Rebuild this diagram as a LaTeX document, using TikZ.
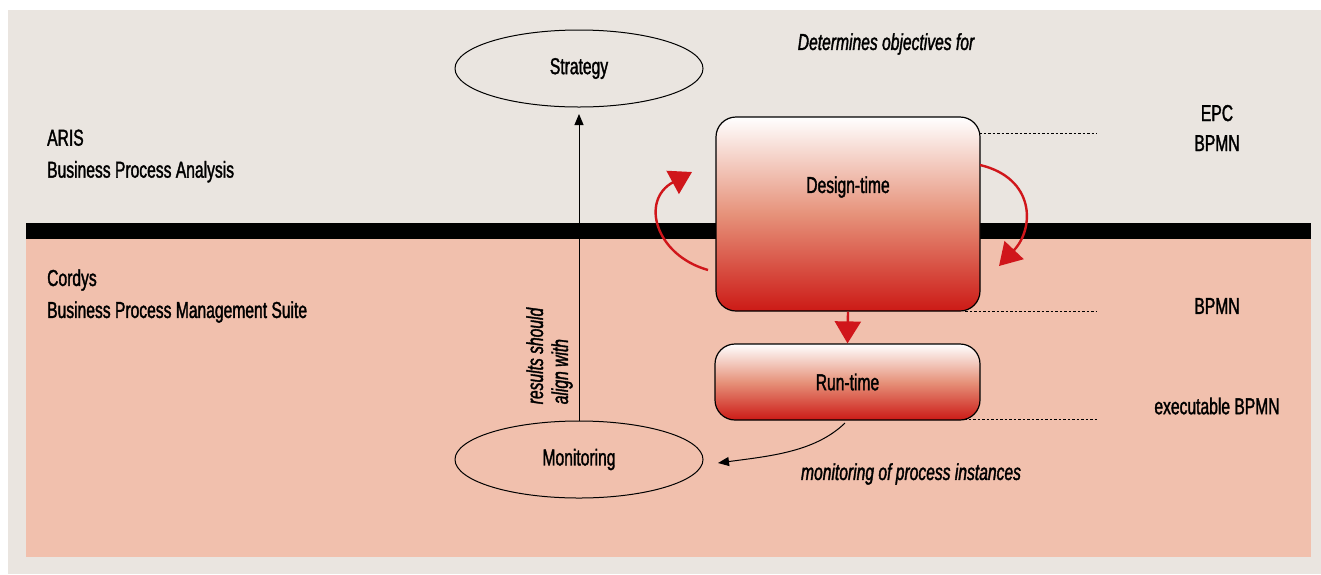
\documentclass[tikz,border=0pt]{standalone}
\usepackage{fontspec}
\setmainfont{Liberation Sans}[FakeStretch=0.68,FakeBold=1.5]
\usetikzlibrary{arrows.meta,shapes.geometric}
\definecolor{beige}{HTML}{EAE5E0}
\definecolor{pinkbg}{HTML}{F1C0AD}
\definecolor{arrowred}{HTML}{D0161B}
\definecolor{salmon}{HTML}{E6927A}
\definecolor{deepred}{HTML}{CC1A16}
\tikzset{
  lbl/.style={font=\fontsize{23}{32}\selectfont, inner sep=0pt},
  ilbl/.style={font=\fontsize{23}{32}\selectfont\itshape, inner sep=0pt},
  oval/.style={ellipse, draw=black, line width=1pt, minimum width=248pt, minimum height=77pt, inner sep=0pt, font=\fontsize{23}{25}\selectfont},
  phasebox/.style={rounded corners=20pt, draw=black, line width=1.2pt, top color=white, bottom color=deepred, middle color=salmon, inner sep=0pt, font=\fontsize{23}{25}\selectfont},
  redarrow/.style={draw=arrowred, line width=2.4pt, -{Triangle[length=22pt,width=26pt]}},
  blackarrow/.style={draw=black, line width=1pt, -{Triangle[length=11pt,width=9pt]}},
  dotline/.style={draw=black, line width=1pt, dash pattern=on 2.5pt off 2pt}
}
\begin{document}
\begin{tikzpicture}[x=1pt, y={(0pt,-1pt)}]
\useasboundingbox (0,0) rectangle (1321,574);
% backgrounds
\fill[white] (0,0) rectangle (1321,574);
\fill[beige] (8,10) rectangle (1321,574);
\fill[pinkbg] (26,239) rectangle (1311,557);
\fill[black] (26,223) rectangle (1311,239);

% left labels
\node[lbl, anchor=west, align=left] (aris) at (47,156) {ARIS\\Business Process Analysis};
\node[lbl, anchor=west, align=left] (cordys) at (47,296) {Cordys\\Business Process Management Suite};

% right labels
\node[lbl, align=center] (epc) at (1217,128) {EPC\\[-2pt]BPMN};
\node[lbl] (bpmn) at (1217,306) {BPMN};
\node[lbl] (exec) at (1217,406) {executable BPMN};

% italic labels
\node[ilbl] (determ) at (886,44) {Determines objectives for};
\node[ilbl] (moninst) at (911,474) {monitoring of process instances};

% ellipses
\node[oval] (strategy) at (579,68.5) {Strategy};
\node[oval] (monitoring) at (579,459.5) {Monitoring};

% dotted lines
\coordinate (d1a) at (979,133); \coordinate (d1b) at (1097,133);
\coordinate (d2a) at (965,311); \coordinate (d2b) at (1097,311);
\coordinate (d3a) at (964,419); \coordinate (d3b) at (1097,419);
\draw[dotline] (d1a) -- (d1b);
\draw[dotline] (d2a) -- (d2b);
\draw[dotline] (d3a) -- (d3b);

% boxes
\node[phasebox, minimum width=264pt, minimum height=194pt] (design) at (848,214) {};
\node[lbl] (designlbl) at (848,187) {Design-time};
\node[phasebox, minimum width=265pt, minimum height=76pt] (runtime) at (847.5,382) {Run-time};

% red arrows
\coordinate (ls) at (708,270);
\coordinate (lt) at (692,172);
\draw[redarrow] (ls) .. controls (655,255) and (640,200) .. (lt);
\coordinate (rs) at (980,165);
\coordinate (rt) at (999,266);
\draw[redarrow] (rs) .. controls (1035,178) and (1035,228) .. (rt);
\draw[redarrow] (design.south) -- (runtime.north);

% black arrows
\coordinate (sttip) at (579,114);
\draw[blackarrow] (monitoring.north) -- (sttip);
\node[font=\fontsize{23}{25}\selectfont\itshape, inner sep=0pt, rotate=90, align=left] (align) at (549.5,356) {results should\\align with};
\coordinate (ms) at (845,423);
\coordinate (montip) at (718,463);
\draw[blackarrow] (ms) .. controls (815,452) and (770,456) .. (montip);
\end{tikzpicture}
\end{document}
